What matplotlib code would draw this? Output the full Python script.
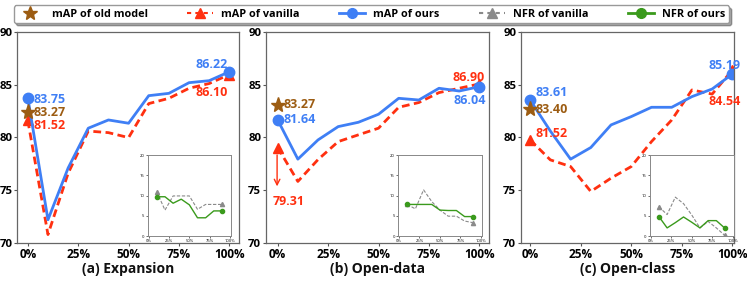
import numpy as np
import matplotlib.pyplot as plt
from matplotlib.lines import Line2D

plt.rcParams['font.family'] = ['Open Sans', 'DejaVu Sans']

# x positions 0%..100% in steps of 10%
x = np.arange(11)
xticks = [0, 2.5, 5, 7.5, 10]
xticklabels = ['0%', '25%', '50%', '75%', '100%']

# mAP curves
ours_a = [83.75, 72.2, 77.1, 80.87, 81.65, 81.34, 83.95, 84.17, 85.18, 85.37, 86.22]
van_a = [81.6, 70.8, 76.6, 80.6, 80.45, 79.98, 83.2, 83.7, 84.65, 85.1, 85.95]
old_a = 82.4
ours_b = [81.65, 77.94, 79.76, 81.02, 81.43, 82.19, 83.7, 83.54, 84.65, 84.39, 84.8]
van_b = [79.04, 75.83, 77.9, 79.6, 80.24, 80.87, 82.85, 83.3, 84.24, 84.65, 85.06]
old_b = 83.07
ours_c = [83.54, 80.6, 77.94, 79.04, 81.18, 81.97, 82.85, 82.85, 83.86, 84.58, 86.0]
van_c = [79.76, 77.87, 77.24, 74.88, 76.14, 77.24, 79.6, 81.65, 84.49, 84.1, 86.38]
old_c = 82.66

# NFR curves (inset), at 10%..90%
nfr_x = [10, 20, 30, 40, 50, 60, 70, 80, 90]
nfr_van_a = [10.9, 6.4, 9.9, 9.9, 9.9, 6.6, 7.8, 7.8, 7.8]
nfr_ours_a = [9.7, 9.7, 8.1, 9.1, 7.7, 4.5, 4.5, 6.2, 6.2]
nfr_van_b = [7.8, 6.7, 11.4, 8.5, 6.4, 4.9, 4.9, 3.7, 3.3]
nfr_ours_b = [7.8, 7.8, 7.8, 7.8, 6.4, 6.3, 6.3, 4.8, 4.8]
nfr_van_c = [7.2, 5.3, 9.6, 8.0, 5.2, 2.0, 3.6, 2.0, 0.2]
nfr_ours_c = [4.8, 2.0, 3.3, 4.7, 3.4, 2.0, 3.8, 3.8, 2.0]

titles = ['(a) Expansion', '(b) Open-data', '(c) Open-class']

BLUE = '#3f7ff5'
RED = '#ff3010'
BROWN = '#9c5c12'
GREEN = '#3a9a1c'
GREY = '#8a8a8a'

fig = plt.figure(figsize=(7.47, 2.87), dpi=100)

main_pos = [[0.0232, 0.1533, 0.2968, 0.736],
            [0.3561, 0.1533, 0.2985, 0.736],
            [0.6975, 0.1533, 0.2851, 0.736]]
inset_pos = [[0.198, 0.1777, 0.111, 0.282],
             [0.533, 0.1777, 0.112, 0.282],
             [0.870, 0.1777, 0.112, 0.282]]
xlims = [(-0.52, 10.48), (-0.58, 10.48), (-0.45, 10.08)]

ours_all = [ours_a, ours_b, ours_c]
van_all = [van_a, van_b, van_c]
old_all = [old_a, old_b, old_c]
nfr_van_all = [nfr_van_a, nfr_van_b, nfr_van_c]
nfr_ours_all = [nfr_ours_a, nfr_ours_b, nfr_ours_c]

axes = []
for i in range(3):
    ax = fig.add_axes(main_pos[i])
    axes.append(ax)
    ax.plot(x, van_all[i], '--', color=RED, lw=2, dashes=(2.8, 1.6),
            marker='^', markersize=7, markevery=[0, 10])
    ax.plot(x, ours_all[i], '-', color=BLUE, lw=2,
            marker='o', markersize=7.5, markevery=[0, 10])
    ax.plot([0], [old_all[i]], marker='*', color=BROWN, markersize=11, ls='none')
    ax.set_xlim(*xlims[i])
    ax.set_ylim(70, 90)
    ax.set_xticks(xticks)
    ax.set_xticklabels(xticklabels)
    ax.set_yticks([70, 75, 80, 85, 90])
    ax.tick_params(length=2.5, width=0.8, pad=1, colors='#555555', labelcolor='black')
    for lab in ax.get_xticklabels():
        lab.set_fontweight('bold')
        lab.set_fontsize(8.5)
    for lab in ax.get_yticklabels():
        lab.set_fontweight('bold')
        lab.set_fontsize(8.2)
    for s in ax.spines.values():
        s.set_color('#666666')
        s.set_linewidth(0.9)
    ax.text(0.5, -0.125, titles[i], transform=ax.transAxes, ha='center', va='center',
            fontsize=10, fontweight='bold', color='#111111')

lab_kw = dict(fontsize=9, fontweight='bold', va='center', ha='left')
# (a)
ax = axes[0]
ax.text(0.28, 83.6, '83.75', color=BLUE, **lab_kw)
ax.text(0.28, 82.35, '83.27', color=BROWN, **lab_kw)
ax.text(0.28, 81.1, '81.52', color=RED, **lab_kw)
ax.text(8.33, 86.9, '86.22', color=BLUE, **lab_kw)
ax.text(8.33, 84.24, '86.10', color=RED, **lab_kw)
# (b)
ax = axes[1]
ax.text(0.28, 83.07, '83.27', color=BROWN, **lab_kw)
ax.text(0.28, 81.65, '81.64', color=BLUE, **lab_kw)
ax.text(-0.25, 73.9, '79.31', color=RED, **lab_kw)
ax.annotate('', xy=(-0.03, 75.1), xytext=(-0.03, 78.6),
            arrowprops=dict(arrowstyle='->', color=RED, lw=1))
ax.text(8.68, 85.65, '86.90', color=RED, **lab_kw)
ax.text(8.7, 83.45, '86.04', color=BLUE, **lab_kw)
# (c)
ax = axes[2]
ax.text(0.25, 84.24, '83.61', color=BLUE, **lab_kw)
ax.text(0.25, 82.6, '83.40', color=BROWN, **lab_kw)
ax.text(0.25, 80.4, '81.52', color=RED, **lab_kw)
ax.text(8.81, 86.85, '85.19', color=BLUE, **lab_kw)
ax.text(8.81, 83.39, '84.54', color=RED, **lab_kw)

# insets with NFR
for i in range(3):
    ins = fig.add_axes(inset_pos[i])
    ins.plot(nfr_x, nfr_van_all[i], '--', color=GREY, lw=0.8, dashes=(3, 1.5),
             marker='^', markersize=3, markevery=[0, 8])
    ins.plot(nfr_x, nfr_ours_all[i], '-', color=GREEN, lw=1.0,
             marker='o', markersize=3, markevery=[0, 8])
    ins.set_xlim(-1, 101)
    ins.set_ylim(0, 20)
    ins.set_xticks([0, 25, 50, 75, 100])
    ins.set_xticklabels(['0%', '25%', '50%', '75%', '100%'])
    ins.set_yticks([0, 5, 10, 15, 20])
    ins.tick_params(labelsize=3, length=1.5, width=0.4, pad=1)
    for s in ins.spines.values():
        s.set_color('#888888')
        s.set_linewidth(0.7)

handles = [
    Line2D([], [], color=BROWN, marker='*', markersize=10, ls='none'),
    Line2D([], [], color=RED, marker='^', markersize=7, ls='--', lw=1.5, dashes=(2, 2)),
    Line2D([], [], color=BLUE, marker='o', markersize=7, ls='-', lw=2),
    Line2D([], [], color=GREY, marker='^', markersize=7, ls='--', lw=1.5, dashes=(2, 2)),
    Line2D([], [], color=GREEN, marker='o', markersize=7, ls='-', lw=2),
]
labels = ['mAP of old model', 'mAP of vanilla', 'mAP of ours', 'NFR of vanilla', 'NFR of ours']
leg = fig.legend(handles, labels, loc='upper center', bbox_to_anchor=(0.497, 1.0), ncol=5,
                 fancybox=True, shadow=True, columnspacing=3.6, handlelength=2.4,
                 handletextpad=0.8, borderpad=0.3,
                 prop={'size': 7.8, 'weight': 'bold'})
leg.get_frame().set_edgecolor('#999999')

fig.savefig('out.png', dpi=100)
